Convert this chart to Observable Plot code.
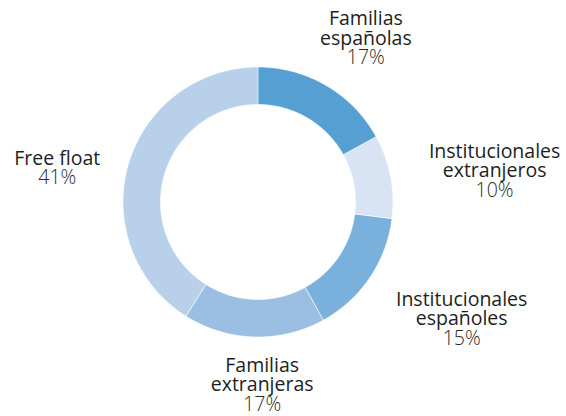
<!DOCTYPE html>
<html>
<head>
<meta charset="utf-8">
<script src="https://cdn.jsdelivr.net/npm/d3@7"></script>
<script src="https://cdn.jsdelivr.net/npm/@observablehq/plot@0.6"></script>
<style>
  html, body { margin: 0; padding: 0; background: #fff; }
  svg { display: block; }
</style>
</head>
<body>
<div id="chart"></div>
<script>
// ---- data ----
const categories = ["Familias españolas", "Institucionales extranjeros", "Institucionales españoles", "Familias extranjeras", "Free float"];
const nameLines = [["Familias", "españolas"], ["Institucionales", "extranjeros"], ["Institucionales", "españoles"], ["Familias", "extranjeras"], ["Free float"]];
const shares = [17, 10, 15, 17, 41];
const percentLabels = ["17%", "10%", "15%", "17%", "41%"];
const colors = ["#569fd3", "#d8e4f4", "#7ab0dc", "#9bbfe3", "#b8d0ea"];

// ---- layout ----
const W = 566, H = 416;
const CX = 257.5, CY = 201.5;
const R_OUT = 135, R_IN = 97.5, R_LABEL = 166;
const FONT = '"Open Sans", "Noto Sans", sans-serif';
const FS = 19.5, LH = 19.5;
// small manual label nudges (px), as in the hand-placed original
const labelNudge = [[0, 2], [9, 5], [12, 9], [11, -9], [0, 17]];

const arcs = d3.pie().sort(null).value(d => d)(shares);

const slicePts = [];
arcs.forEach((a, i) => {
  const n = Math.max(4, Math.ceil((a.endAngle - a.startAngle) / (Math.PI / 180)));
  for (let k = 0; k <= n; k++) {
    const t = a.startAngle + (a.endAngle - a.startAngle) * k / n;
    slicePts.push({cat: categories[i], x: R_OUT * Math.sin(t), y: -R_OUT * Math.cos(t)});
  }
  for (let k = n; k >= 0; k--) {
    const t = a.startAngle + (a.endAngle - a.startAngle) * k / n;
    slicePts.push({cat: categories[i], x: R_IN * Math.sin(t), y: -R_IN * Math.cos(t)});
  }
});

// one label block per slice, positioned from the slice mid-angle
const ctx = document.createElement("canvas").getContext("2d");
ctx.font = `400 ${FS}px ${FONT}`;
const labels = arcs.map((a, i) => {
  const mid = (a.startAngle + a.endAngle) / 2;
  const n = nameLines[i].length + 1;
  const bw = d3.max(nameLines[i], t => ctx.measureText(t).width);
  const bh = (n - 1) * LH + 13;
  return {
    text: [...nameLines[i], percentLabels[i]].join("\n"),
    x: (R_LABEL + bw / 2) * Math.sin(mid) + labelNudge[i][0],
    y: -R_LABEL * Math.cos(mid) - bh / 2 * Math.cos(mid) + labelNudge[i][1]
  };
});

const chart = Plot.plot({
  width: W,
  height: H,
  margin: 0,
  style: {background: "#fff"},
  x: {domain: [-CX, W - CX], range: [0, W], axis: null},
  y: {domain: [-CY, H - CY], range: [0, H], axis: null},
  color: {domain: categories, range: colors, legend: false},
  marks: [
    Plot.line(slicePts, {x: "x", y: "y", z: "cat", fill: "cat", stroke: "#fff", strokeWidth: 0.6, curve: "linear-closed"}),
    Plot.text(labels, {x: "x", y: "y", text: "text", fontSize: FS, lineHeight: LH / FS, fontFamily: FONT, fontWeight: 400, fill: "#1e1e1e", textAnchor: "middle", lineAnchor: "middle"})
  ]
});
// percentage line is set lighter than the category name
d3.select(chart).selectAll("text").each(function () {
  const spans = this.querySelectorAll("tspan");
  if (spans.length) {
    const last = spans[spans.length - 1];
    last.setAttribute("font-weight", 300);
    last.setAttribute("fill", "#2a2a2a");
  }
});
document.getElementById("chart").appendChild(chart);
</script>
</body>
</html>
